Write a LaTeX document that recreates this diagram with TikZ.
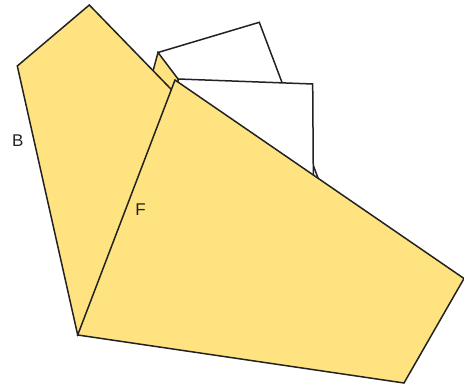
\documentclass[tikz,border=0pt]{standalone}
\usepackage{fontspec}
\setmainfont{Liberation Sans}
\definecolor{paleyellow}{RGB}{255,227,128}
\definecolor{edgegray}{RGB}{34,34,34}
\tikzset{
  yellowface/.style={fill=paleyellow, draw=edgegray, line width=1.5pt, line join=miter},
  whiteface/.style={fill=white, draw=edgegray, line width=1.5pt, line join=miter},
  lbl/.style={inner sep=0pt, font=\fontsize{17}{20}\selectfont, text=edgegray}
}
\begin{document}
\begin{tikzpicture}[x=1pt,y=-1pt]
\useasboundingbox (0,0) rectangle (464,387);
% back white quadrilateral
\draw[whiteface] (158,52.5) -- (259.3,22.3) -- (337.7,230.2) -- (236.4,260.4) -- cycle;
% small yellow piece
\draw[yellowface] (158,52.5) -- (200,108) -- (175,150) -- (146,97) -- cycle;
% second white quadrilateral
\draw[whiteface] (178,79) -- (312.7,84) -- (313.5,200) -- (180,200) -- cycle;
% pentagon B
\draw[yellowface] (17.3,66) -- (89.3,5) -- (200,119) -- (190,200) -- (77.7,335) -- cycle;
% polygon F
\draw[yellowface] (175,80) -- (464,278.5) -- (404,383) -- (77.7,335) -- cycle;
\node[lbl] (labB) at (17.8,140.5) {B};
\node[lbl] (labF) at (140.5,209.5) {F};
\end{tikzpicture}
\end{document}
